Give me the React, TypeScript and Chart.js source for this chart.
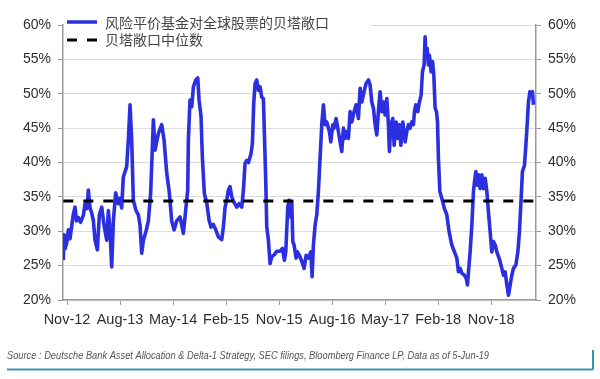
import React, { useEffect, useRef } from "react";
import { Chart, registerables } from "chart.js";

Chart.register(...registerables);

// ---- data ----
const tickLabels = ["Nov-12", "Aug-13", "May-14", "Feb-15", "Nov-15", "Aug-16", "May-17", "Feb-18", "Nov-18"];
const tickMonths = [0, 9, 18, 27, 36, 45, 54, 63, 72]; // months since Nov-12

// months since Nov-12
const months = [
  -0.63, -0.5, -0.3, -0.05, 0.23, 0.51, 1.07, 1.36, 1.6, 1.92, 2.3, 2.77, 3.06, 3.4, 3.62, 3.9, 4.2, 4.47, 4.75, 5.15,
  5.49, 5.89, 6.28, 6.74, 7.02, 7.3, 7.59, 7.87, 8.26, 8.71, 9.0, 9.28, 9.56, 10.13, 10.41, 10.7, 10.98, 11.26, 11.71, 12.11,
  12.39, 12.68, 12.96, 13.41, 13.81, 14.2, 14.66, 14.94, 15.5, 16.07, 16.47, 16.92, 17.37, 17.77, 18.17, 18.62,
  19.19, 19.75, 20.03, 20.49, 20.6, 20.88, 21.17, 21.45, 21.85, 22.19, 22.41, 22.75, 22.97, 23.31, 23.72, 24.11, 24.45, 24.84,
  25.25, 25.69, 26.26, 26.54, 26.83, 27.11, 27.39, 27.67, 27.96, 28.41, 28.81, 29.2, 29.66, 29.94, 30.22, 30.51, 30.79, 31.24,
  31.47, 31.69, 31.92, 32.2, 32.49, 32.77, 33.05, 33.33, 33.5, 33.73, 33.9, 34.18, 34.47, 34.75, 35.2, 35.6, 36.16, 36.56,
  36.9, 37.13, 37.47, 37.69, 38.03,
  38.15, 38.32, 38.54, 38.88, 39.1, 39.44, 39.85, 40.24, 40.58, 40.97, 41.38, 41.6, 41.82, 42.11, 42.39, 42.67, 42.95, 43.24,
  43.52, 43.8, 44.09, 44.53, 44.77, 45.11, 45.33, 45.67, 46.06, 46.35, 46.63, 46.91, 47.2, 47.49, 47.76, 48.05, 48.34, 48.73,
  49.07, 49.46, 49.75, 50.03, 50.42, 50.76, 51.16, 51.44, 51.73, 52.01, 52.29, 52.58, 52.85, 53.14, 53.43, 53.7, 53.99, 54.28,
  54.55, 54.72, 54.96, 55.3, 55.52, 55.86, 56.08, 56.42, 56.66, 57.0, 57.39,
  57.67, 57.95, 58.23, 58.52, 58.8, 58.97, 59.2, 59.54, 59.76, 60.1, 60.33, 60.61, 60.78, 60.95, 61.12, 61.34, 61.51, 61.8,
  62.03, 62.26, 62.48, 62.71, 62.88, 63.04, 63.28, 63.61, 64.06, 64.46, 64.86, 65.31, 65.76, 66.16, 66.44, 66.72, 67.01, 67.45,
  67.74, 67.97, 68.14, 68.42, 68.71, 68.99, 69.16, 69.39, 69.61, 69.84, 70.12, 70.41, 70.68, 70.97, 71.26, 71.53, 71.82, 72.1,
  72.38, 72.67, 72.95, 73.34, 73.8, 74.08, 74.36, 74.65, 74.93, 75.21, 75.5, 75.77, 76.18, 76.52, 76.79, 77.08, 77.3, 77.64,
  77.88, 78.1, 78.32, 78.56, 78.78, 79.0, 79.17,
];

// beta exposure, %
const betaExposure = [
  25.8, 29.5, 27.5, 28.3, 30.2, 28.9, 32.5, 33.5, 31.5, 32.0, 31.3, 32.3, 34.0, 33.3, 36.0, 33.5, 32.6, 31.6, 28.7, 27.3,
  32.4, 33.5, 30.9, 28.7, 33.0, 30.0, 24.8, 31.5, 35.6, 34.0, 34.8, 33.4, 37.9, 39.4, 43.3, 48.4, 43.3, 34.5, 33.0, 32.4,
  30.9, 26.8, 28.7, 30.0, 31.5, 35.6, 46.2, 41.8, 44.2, 45.5, 43.3, 38.5, 35.6, 31.5, 30.2, 31.5,
  32.1, 29.7, 32.1, 36.0, 43.3, 49.1, 48.1, 51.0, 52.0, 52.3, 49.1, 46.7, 40.8, 35.5, 34.1, 31.6, 30.6, 31.0,
  30.2, 29.2, 28.8, 30.6, 33.5, 34.5, 36.0, 36.5, 35.0, 34.1, 33.5, 34.0, 33.5, 36.0, 39.9, 40.3, 40.0, 41.3,
  42.8, 48.6, 51.5, 52.0, 50.5, 51.0, 49.5, 49.3, 44.2, 37.4, 30.7, 28.7, 25.3, 26.3, 26.6, 27.1, 27.1, 27.5,
  25.8, 27.0, 33.5, 34.5, 32.0,
  34.3, 28.5, 28.0, 26.1, 27.0, 26.5, 25.6, 24.6, 26.5, 26.1, 27.0, 23.4, 28.0, 30.9, 32.4, 35.8, 40.6, 45.5,
  48.4, 45.5, 45.9, 44.5, 43.0, 45.5, 45.0, 46.4, 44.5, 43.0, 41.6, 45.0, 43.5, 44.5, 43.5, 47.4, 45.9, 47.4,
  48.4, 46.4, 50.8, 48.8, 50.3, 51.5, 52.0, 51.3, 48.8, 47.9, 45.5, 44.0, 47.4, 50.3, 47.4, 48.8, 46.9, 49.3,
  45.5, 41.6, 45.5, 46.4, 42.5, 45.9, 43.5, 45.5, 42.5, 45.9, 43.0,
  44.5, 45.5, 45.0, 45.9, 45.5, 47.4, 48.4, 47.4, 48.6, 49.8, 53.2, 54.2, 58.3, 55.2, 56.6, 54.2, 55.6, 53.2,
  54.7, 52.7, 47.9, 47.4, 45.9, 40.6, 35.8, 34.8, 33.3, 32.4, 29.9, 28.0, 27.0, 26.1, 24.1, 24.6, 23.9, 23.6,
  23.2, 22.2, 24.1, 27.0, 30.9, 35.8, 37.2, 38.7, 36.7, 38.2, 36.2, 38.2, 36.2, 37.7, 35.8, 32.8, 29.9, 27.0,
  28.5, 28.0, 27.0, 26.1, 24.6, 23.6, 24.1, 22.2, 20.7, 22.2, 23.6, 24.6, 25.1, 27.0, 29.9, 34.8, 38.7, 39.6,
  42.5, 45.5, 48.8, 50.3, 50.1, 50.3, 48.4,
];

const medianBeta = 34.4;

const seriesName = "风险平价基金对全球股票的贝塔敞口";
const medianName = "贝塔敞口中位数";
const sourceText =
  "Source : Deutsche Bank Asset Allocation & Delta-1 Strategy, SEC filings, Bloomberg Finance LP, Data as of 5-Jun-19";

const FONT = "'Liberation Sans', Arial, Helvetica, sans-serif";
const CJK = "'Noto Sans CJK SC', 'Noto Sans', sans-serif";
const BLUE = "#2b2fe0";
const AXIS = "#9a9a9a";
const GRID = "#dcdcdc";
const TEXT = "#2e2e2e";

const overlayPlugin = {
  id: "overlay",
  afterDraw(chart: any) {
    const ctx = chart.ctx;
    const area = chart.chartArea;
    ctx.save();
    // legend box
    ctx.fillStyle = "#ffffff";
    ctx.fillRect(area.left + 1, area.top - 2, 307, 28);
    ctx.lineCap = "butt";
    ctx.strokeStyle = BLUE;
    ctx.lineWidth = 3.5;
    ctx.setLineDash([]);
    ctx.beginPath();
    ctx.moveTo(67, 22);
    ctx.lineTo(97, 22);
    ctx.stroke();
    ctx.strokeStyle = "#000000";
    ctx.lineWidth = 3;
    ctx.setLineDash([10, 10]);
    ctx.beginPath();
    ctx.moveTo(67, 40);
    ctx.lineTo(98, 40);
    ctx.stroke();
    ctx.setLineDash([]);
    ctx.fillStyle = "#444444";
    ctx.font = `14px ${CJK}`;
    ctx.textBaseline = "middle";
    ctx.textAlign = "left";
    ctx.fillText(seriesName, 105, 23);
    ctx.fillText(medianName, 105, 40);

    // source footnote
    ctx.fillStyle = "#555555";
    ctx.font = `italic 11px ${FONT}`;
    ctx.fillText(sourceText, 7, 356, 482);

    // teal frame line
    ctx.strokeStyle = "#3d93a8";
    ctx.lineWidth = 2;
    ctx.beginPath();
    ctx.moveTo(7, 369.5);
    ctx.lineTo(593, 369.5);
    ctx.moveTo(593, 369.5);
    ctx.lineTo(593, 350);
    ctx.stroke();
    ctx.restore();
  },
};

export default function App() {
  const ref = useRef<HTMLCanvasElement | null>(null);

  useEffect(() => {
    document.body.style.margin = "0";
    const canvas = ref.current;
    if (!canvas) return;
    const yTicks = {
      stepSize: 5,
      callback: (v: any) => `${v}%`,
      padding: 7,
      color: TEXT,
      font: { family: FONT, size: 14 },
    };
    const chart = new Chart(canvas, {
      type: "line",
      data: {
        datasets: [
          {
            label: seriesName,
            data: months.map((m, i) => ({ x: m, y: betaExposure[i] })),
            borderColor: BLUE,
            borderWidth: 3.6,
            borderJoinStyle: "round",
            pointRadius: 0,
            tension: 0,
            fill: false,
            order: 1,
            yAxisID: "y",
          },
          {
            label: medianName,
            data: [
              { x: months[0], y: medianBeta },
              { x: months[months.length - 1], y: medianBeta },
            ],
            borderColor: "#000000",
            borderWidth: 3,
            borderDash: [10, 10],
            pointRadius: 0,
            fill: false,
            order: 0,
            yAxisID: "y",
          },
        ],
      },
      options: {
        responsive: false,
        animation: false,
        layout: { padding: { top: 25, left: 0, right: 0, bottom: 0 } },
        plugins: { legend: { display: false }, tooltip: { enabled: false } },
        scales: {
          x: {
            type: "linear",
            min: -0.68,
            max: 79.6,
            afterBuildTicks: (s: any) => {
              s.ticks = tickMonths.map((v) => ({ value: v }));
            },
            afterFit: (s: any) => {
              s.height = 79;
            },
            ticks: {
              autoSkip: false,
              maxRotation: 0,
              padding: 6,
              color: TEXT,
              font: { family: FONT, size: 14.5 },
              callback: (_v: any, i: number) => tickLabels[i],
            },
            grid: { drawOnChartArea: false, drawTicks: true, tickLength: 5, tickColor: AXIS },
            border: { display: true, color: AXIS, width: 1.5 },
          },
          y: {
            position: "left",
            min: 20,
            max: 60,
            afterFit: (s: any) => {
              s.width = 63;
            },
            ticks: yTicks,
            grid: { color: GRID, lineWidth: 1, drawTicks: true, tickLength: 5, tickColor: AXIS },
            border: { display: true, color: AXIS, width: 1.5 },
          },
          y2: {
            position: "right",
            min: 20,
            max: 60,
            afterFit: (s: any) => {
              s.width = 64;
            },
            ticks: yTicks,
            grid: { drawOnChartArea: false, drawTicks: true, tickLength: 5, tickColor: AXIS },
            border: { display: true, color: AXIS, width: 1.5 },
          },
        },
      } as any,
      plugins: [overlayPlugin],
    });
    return () => chart.destroy();
  }, []);

  return (
    <div style={{ width: 600, height: 379, position: "relative", background: "#fff" }}>
      <canvas ref={ref} width={600} height={379} style={{ display: "block" }} />
    </div>
  );
}
